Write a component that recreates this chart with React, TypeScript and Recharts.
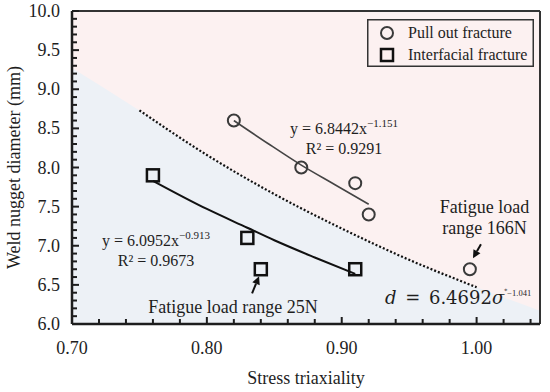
import React from 'react';
import {
  ComposedChart,
  Line,
  Area,
  Scatter,
  XAxis,
  YAxis,
  CartesianGrid,
  ReferenceLine,
  ReferenceDot,
  Legend,
} from 'recharts';

// measured points
const pullOutX = [0.82, 0.87, 0.91, 0.92, 0.995];
const pullOutY = [8.6, 8.0, 7.8, 7.4, 6.7];
const interX = [0.76, 0.83, 0.84, 0.91];
const interY = [7.9, 7.1, 6.7, 6.7];

// trend lines
const pullFitX = [0.82, 0.845, 0.87, 0.895, 0.92];
const pullFitY = [8.6, 8.31, 8.03, 7.78, 7.53];
const interFitX = [0.76, 0.8, 0.83, 0.85, 0.88, 0.91];
const interFitY = [7.83, 7.47, 7.23, 7.07, 6.85, 6.64];

// boundary d = 6.4692 sigma^-1.041
const boundX = [0.75, 0.8, 0.85, 0.9, 0.95, 1.0];
const boundY = [8.73, 8.16, 7.66, 7.22, 6.82, 6.47];
const shadeX = [0.7, 0.75, 0.8, 0.85, 0.9, 0.95, 1.0, 1.047];
const shadeY = [9.27, 8.73, 8.16, 7.66, 7.22, 6.82, 6.47, 6.17];

const xMax = 1.047;
const xTicks = [0.7, 0.72, 0.74, 0.76, 0.78, 0.8, 0.82, 0.84, 0.86, 0.88, 0.9, 0.92, 0.94, 0.96, 0.98, 1.0, 1.02, 1.04];
const xMajor = [0.7, 0.8, 0.9, 1.0];
const yTicks = [
  6.0, 6.1, 6.2, 6.3, 6.4, 6.5, 6.6, 6.7, 6.8, 6.9, 7.0, 7.1, 7.2, 7.3, 7.4, 7.5, 7.6, 7.7, 7.8, 7.9,
  8.0, 8.1, 8.2, 8.3, 8.4, 8.5, 8.6, 8.7, 8.8, 8.9, 9.0, 9.1, 9.2, 9.3, 9.4, 9.5, 9.6, 9.7, 9.8, 9.9, 10.0,
];
const yMajor = [6.0, 6.5, 7.0, 7.5, 8.0, 8.5, 9.0, 9.5, 10.0];

const toPts = (xs: number[], ys: number[]) => xs.map((x, i) => ({ x, y: ys[i] }));

const pullOut = toPts(pullOutX, pullOutY);
const inter = toPts(interX, interY);
const pullFit = toPts(pullFitX, pullFitY);
const interFit = toPts(interFitX, interFitY);
const bound = toPts(boundX, boundY);
const shade = toPts(shadeX, shadeY);

const FONT = 'Liberation Serif, Times New Roman, Times, serif';
const MATH = 'DejaVu Serif, Liberation Serif, serif';
const INK = '#1e1e1e';
const serif = { fontFamily: FONT };

const near = (list: number[], v: number) => list.some((m) => Math.abs(m - v) < 1e-6);

const XTick = ({ x, y, payload }: any) => {
  const major = near(xMajor, payload.value);
  return (
    <g>
      <line x1={x} x2={x} y1={y} y2={y - (major ? 7 : 5)} stroke={INK} strokeWidth={2} />
      {major && (
        <text x={x} y={y + 30} textAnchor="middle" style={serif} fontSize={18} fill={INK}>
          {payload.value.toFixed(2)}
        </text>
      )}
    </g>
  );
};

const YTick = ({ x, y, payload }: any) => {
  const major = near(yMajor, payload.value);
  return (
    <g>
      <line x1={x} x2={x + (major ? 7 : 5)} y1={y} y2={y} stroke={INK} strokeWidth={2} />
      {major && (
        <text x={x - 12} y={y + 6} textAnchor="end" style={serif} fontSize={18} fill={INK}>
          {payload.value.toFixed(1)}
        </text>
      )}
    </g>
  );
};

const CircleShape = ({ cx, cy }: any) => (
  <circle cx={cx} cy={cy} r={6} fill="none" stroke="#3a3a3a" strokeWidth={2} />
);
const SquareShape = ({ cx, cy }: any) => (
  <rect x={cx - 6} y={cy - 6} width={12} height={12} fill="none" stroke="#111" strokeWidth={2.5} />
);

const LegendBox = () => (
  <svg width={167} height={48}>
    <rect x={0.75} y={0.75} width={165.5} height={46.5} fill="none" stroke="#333" strokeWidth={1.5} />
    <circle cx={20} cy={14} r={6} fill="none" stroke="#3a3a3a" strokeWidth={2} />
    <text x={41} y={19} style={serif} fontSize={16} fill={INK}>Pull out fracture</text>
    <rect x={14} y={30} width={12} height={12} fill="none" stroke="#111" strokeWidth={2.5} />
    <text x={41} y={41} style={serif} fontSize={16} fill={INK}>Interfacial fracture</text>
  </svg>
);

// text annotations anchored at data positions
const Note = (
  lines: React.ReactNode,
  anchor: 'start' | 'middle' = 'middle',
  size = 16,
  family = FONT,
  extra: React.CSSProperties = {},
) =>
  ({ cx, cy }: any) => (
    <text x={cx} y={cy} textAnchor={anchor} style={{ fontFamily: family, ...extra }} fontSize={size} fill={INK}>
      {lines}
    </text>
  );

const Arrow = (dx: number, dy: number) => ({ cx, cy }: any) => {
  const len = Math.hypot(dx, dy);
  const ux = -dx / len;
  const uy = -dy / len;
  const bx = cx - ux * 8;
  const by = cy - uy * 8;
  return (
    <g>
      <line x1={cx + dx} y1={cy + dy} x2={bx} y2={by} stroke="#111" strokeWidth={2} />
      <polygon
        points={`${cx},${cy} ${bx - uy * 4},${by + ux * 4} ${bx + uy * 4},${by - ux * 4}`}
        fill="#111"
      />
    </g>
  );
};

export default function App() {
  return (
    <div style={{ position: 'absolute', left: 0, top: 0, width: 550, height: 392, background: '#fff', fontFamily: FONT }}>
      <ComposedChart width={550} height={392} margin={{ top: 11, right: 10, bottom: 0, left: 0 }}>
        <CartesianGrid horizontal={false} vertical={false} fill="#fcf1f1" />
        <XAxis
          dataKey="x"
          type="number"
          domain={[0.7, xMax]}
          allowDataOverflow
          ticks={xTicks}
          interval={0}
          tickSize={0}
          tickMargin={0}
          tickLine={false}
          tick={<XTick />}
          height={68}
          stroke={INK}
          strokeWidth={2.5}
          label={{ value: 'Stress triaxiality', position: 'insideBottom', offset: 8, style: serif, fontSize: 18, fill: INK }}
        />
        <YAxis
          dataKey="y"
          type="number"
          domain={[6, 10]}
          allowDataOverflow
          ticks={yTicks}
          interval={0}
          tickSize={0}
          tickMargin={0}
          tickLine={false}
          tick={<YTick />}
          width={72}
          stroke={INK}
          strokeWidth={2.5}
          label={{
            value: 'Weld nugget diameter (mm)',
            angle: -90,
            position: 'insideLeft',
            offset: 14,
            style: { textAnchor: 'middle', fontFamily: FONT },
            fontSize: 18,
            fill: INK,
          }}
        />
        <Area
          data={shade}
          dataKey="y"
          type="monotone"
          baseValue={6}
          stroke="none"
          fill="#edf1f6"
          fillOpacity={1}
          isAnimationActive={false}
        />
        <ReferenceLine y={10} stroke="#333" strokeWidth={2} />
        <ReferenceLine x={xMax} stroke="#333" strokeWidth={2} />
        <Line
          data={bound}
          dataKey="y"
          type="monotone"
          stroke="#111"
          strokeWidth={2.2}
          strokeDasharray="2 2"
          dot={false}
          isAnimationActive={false}
        />
        <Line data={pullFit} dataKey="y" type="monotone" stroke="#444" strokeWidth={1.6} dot={false} isAnimationActive={false} />
        <Line data={interFit} dataKey="y" type="monotone" stroke="#111" strokeWidth={2} dot={false} isAnimationActive={false} />
        <Scatter data={pullOut} dataKey="y" shape={<CircleShape />} isAnimationActive={false} />
        <Scatter data={inter} dataKey="y" shape={<SquareShape />} isAnimationActive={false} />

        <ReferenceDot
          x={0.9017}
          y={8.43}
          r={0}
          shape={Note(
            <>
              y = 6.8442x<tspan dy={-7} fontSize={11}>−1.151</tspan>
            </>,
          )}
        />
        <ReferenceDot x={0.9017} y={8.17} r={0} shape={Note(<>R² = 0.9291</>)} />
        <ReferenceDot
          x={0.7623}
          y={7.0}
          r={0}
          shape={Note(
            <>
              y = 6.0952x<tspan dy={-7} fontSize={11}>−0.913</tspan>
            </>,
          )}
        />
        <ReferenceDot x={0.7623} y={6.74} r={0} shape={Note(<>R² = 0.9673</>)} />
        <ReferenceDot x={0.8194} y={6.14} r={0} shape={Note(<>Fatigue load range 25N</>, 'middle', 18)} />
        <ReferenceDot x={1.0059} y={7.42} r={0} shape={Note(<>Fatigue load</>, 'middle', 18)} />
        <ReferenceDot x={1.0059} y={7.15} r={0} shape={Note(<>range 166N</>, 'middle', 18)} />
        <ReferenceDot
          x={0.932}
          y={6.26}
          r={0}
          shape={Note(
            <>
              <tspan fontStyle="italic">d</tspan> = 6.4692<tspan fontStyle="italic">σ</tspan>
              <tspan dy={-11} fontSize={6}>*</tspan>
              <tspan dy={3} fontSize={8.5} style={serif}>−1.041</tspan>
            </>,
            'start',
            18,
            MATH,
            { wordSpacing: 3 },
          )}
        />
        <ReferenceDot x={0.8387} y={6.61} r={0} shape={Arrow(-7, 17)} />
        <ReferenceDot x={0.9973} y={6.84} r={0} shape={Arrow(8, -14)} />

        <Legend
          layout="vertical"
          align="center"
          verticalAlign="middle"
          wrapperStyle={{ top: 19, left: 367, width: 167, height: 48 }}
          content={() => <LegendBox />}
        />
      </ComposedChart>
    </div>
  );
}
